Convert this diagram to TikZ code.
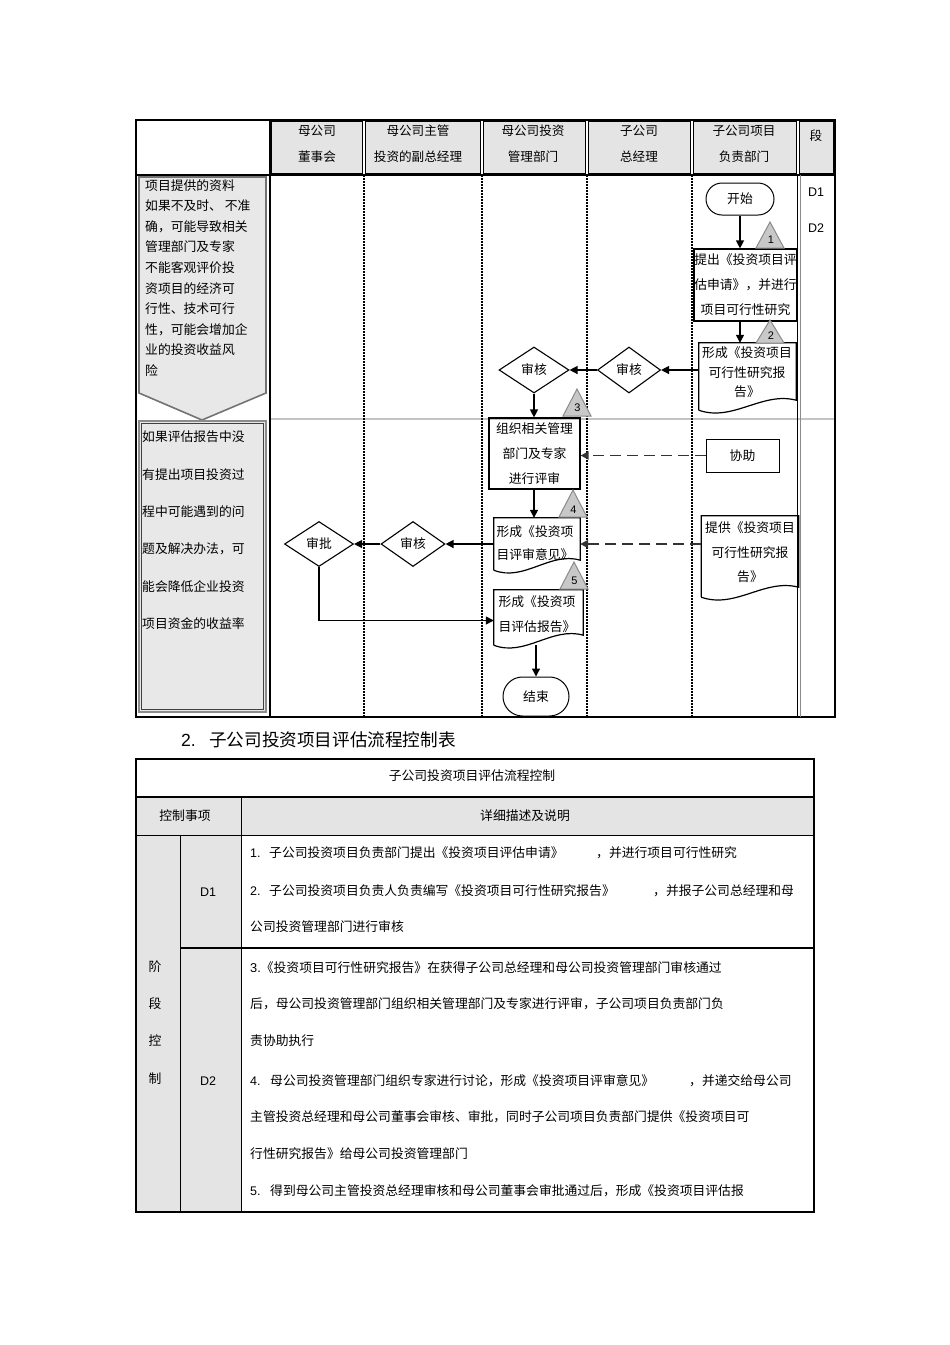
\documentclass[tikz,border=0pt]{standalone}
\usepackage{fontspec}
\setmainfont{Noto Sans CJK SC}
\newfontfamily\lat{Liberation Sans}
\usetikzlibrary{arrows.meta,calc,shapes.geometric,shapes.misc}
\definecolor{hdrgray}{HTML}{E4E4E4}
\definecolor{riskgray}{HTML}{E8E8E8}
\definecolor{trifill}{HTML}{C8C8C8}
\definecolor{triline}{HTML}{8A8A8A}
\definecolor{dashc}{HTML}{333333}
\definecolor{sepgray}{HTML}{C4C4C4}
\tikzset{
  ln/.style={inner sep=0pt, anchor=west, text height=0.86em, text depth=0.14em},
  ctr/.style={inner sep=0pt, align=center, font=\fontsize{12.8}{#1}\selectfont},
  ctr/.default=15,
  lft/.style={inner sep=0pt, align=left, font=\fontsize{12.8}{#1}\selectfont},
  procbox/.style={draw, line width=1.2pt, rectangle, inner sep=0pt},
  termbox/.style={draw, line width=1pt, rounded rectangle, inner sep=0pt},
  decbox/.style={draw, line width=1.1pt, diamond, inner sep=0pt},
  docbox/.style={rectangle, inner sep=0pt, draw=none},
  docline/.style={line width=1.2pt},
  arr/.style={line width=1.3pt, -{Triangle[length=8pt,width=8pt]}},
  darr/.style={line width=1.7pt, dashc, dash pattern=on 11pt off 6pt, -{Triangle[length=8pt,width=8pt]}},
  tri/.style={fill=trifill, draw=triline, line width=1pt},
  trinum/.style={font=\lat\fontsize{11}{13}\selectfont, inner sep=0pt},
  latn/.style={font=\lat\fontsize{12.5}{15}\selectfont, inner sep=0pt},
  hdr/.style={inner sep=0pt, align=center, font=\fontsize{12.6}{26}\selectfont},
}
\begin{document}
\begin{tikzpicture}[x=1pt,y=-1pt,font=\fontsize{12.8}{15}\selectfont]
\path[fill=white] (0,0) rectangle (950,1345);
\useasboundingbox (0,0) rectangle (950,1345);

% ---------------- flowchart frame ----------------
\foreach \a/\b in {270/364,364/482,482/587,587/692,692/798,798/835}
  \draw[fill=hdrgray, line width=1.1pt] (\a+1.6,121.6) rectangle (\b-1.6,173.4);
\draw[line width=1.8pt] (136,120) rectangle (835,175);
\draw[line width=1.8pt] (270,120) -- (270,175);

\draw[line width=2pt, sepgray] (270,419) -- (835,419);
\draw[line width=1.2pt] (136,175) -- (136,717) -- (835,717) -- (835,175);
\draw[line width=1.2pt] (270,175) -- (270,717);
\draw[line width=1pt] (797,175) -- (797,717);
\draw[line width=1pt, black!45] (800,175) -- (800,717);
\foreach \x in {364,482,587,692}
  \draw[line width=1.5pt, dash pattern=on 1.5pt off 1.5pt] (\x,175) -- (\x,717);

% header texts
\node[hdr] (h1) at (317,144) {母公司\\董事会};
\node[hdr] (h2) at (418,144) {母公司主管\\投资的副总经理};
\node[hdr] (h3) at (533,144) {母公司投资\\管理部门};
\node[hdr] (h4) at (639,144) {子公司\\总经理};
\node[hdr] (h5) at (744,144) {子公司项目\\负责部门};
\node[hdr] (h6) at (816,136) {段};
\node[latn] (dd1) at (816,192) {D1};
\node[latn] (dd2) at (816,228) {D2};

% risk boxes
\draw[fill=riskgray, draw=black!55, line width=1.6pt] (139,177) -- (266,177) -- (266,393) -- (202,420) -- (139,393) -- cycle;
\draw[fill=riskgray, draw=black!45, line width=1.6pt] (139,421) rectangle (266,712);
\draw[black!75, line width=0.5pt] (141.5,423.5) rectangle (263.5,709.5);
\foreach \t [count=\i] in {项目提供的资料,如果不及时、 不准,确，可能导致相关,管理部门及专家,不能客观评价投,资项目的经济可,行性、技术可行,性，可能会增加企,业的投资收益风,险}
  \node[ln] (ra\i) at (145,{186.5+20.6*(\i-1)}) {\t};
\foreach \t [count=\i] in {如果评估报告中没,有提出项目投资过,程中可能遇到的问,题及解决办法，可,能会降低企业投资,项目资金的收益率}
  \node[ln] (rb\i) at (142,{438+37.4*(\i-1)}) {\t};

% ---------------- flow nodes ----------------
\node[termbox, minimum width=68pt, minimum height=32pt] (start) at (740,199) {开始};
\node[procbox, minimum width=103pt, minimum height=72pt, ctr=25] (b1) at (745.5,285) {提出《投资项目评\\估申请》，并进行\\项目可行性研究};
\node[docbox, minimum width=97pt, minimum height=67pt] (d2) at (747.5,376.5) {};
\node[ctr=19.5] (t2) at (747,372.5) {形成《投资项目\\可行性研究报\\告》};
\node[decbox, minimum width=63pt, minimum height=46pt] (dB) at (629,370) {审核};
\node[decbox, minimum width=70pt, minimum height=46pt] (dA) at (534,370) {审核};
\node[procbox, minimum width=91pt, minimum height=71pt, ctr=25] (b3) at (534.5,453.5) {组织相关管理\\部门及专家\\进行评审};
\node[procbox, line width=1pt, minimum width=73pt, minimum height=33pt] (xz) at (742.5,455.5) {协助};
\node[docbox, minimum width=86pt, minimum height=52pt] (d4) at (537,544) {};
\node[lft=23] (t4) at (535,543.5) {形成《投资项\\目评审意见》};
\node[docbox, minimum width=97pt, minimum height=81pt] (d6) at (750,556.5) {};
\node[ctr=24.5] (t6) at (750,552.5) {提供《投资项目\\可行性研究报\\告》};
\node[decbox, minimum width=64pt, minimum height=45pt] (dC) at (413,544) {审核};
\node[decbox, minimum width=69pt, minimum height=45pt] (dD) at (319,544) {审批};
\node[docbox, minimum width=89pt, minimum height=55pt] (d5) at (538.5,617.5) {};
\node[lft=25] (t5) at (537,614.5) {形成《投资项\\目评估报告》};
\node[termbox, minimum width=66pt, minimum height=39pt] (end) at (536,696.5) {结束};

% document shapes
\foreach \n/\w in {d2/97,d4/86,d6/98,d5/89}
  \draw[docline] (\n.south west) -- (\n.north west) -- (\n.north east) -- ([yshift=10pt]\n.south east)
    .. controls +(-\w*0.35,-9) and +(\w*0.35,12) .. (\n.south west);

% triangles
\draw[tri] (770,222) -- (784,248) -- (756,248) -- cycle;
\node[trinum] (n1) at (771,240) {1};
\draw[tri] (770,320) -- (784,343) -- (756,343) -- cycle;
\node[trinum] (n2) at (771,335.5) {2};
\draw[tri] (577,389) -- (591,416) -- (563,416) -- cycle;
\node[trinum] (n3) at (577.5,408) {3};
\draw[tri] (573,490) -- (587,517) -- (559,517) -- cycle;
\node[trinum] (n4) at (573.5,509.5) {4};
\draw[tri] (574,562) -- (588,589) -- (560,589) -- cycle;
\node[trinum] (n5) at (574.5,581) {5};

% connectors
\draw[arr] (start.south) -- (start.south |- b1.north);
\draw[arr] (b1.south -| start.south) -- (d2.north -| start.south);
\draw[arr] (d2.west |- dB.east) -- (dB.east);
\draw[arr] (dB.west) -- (dA.east);
\draw[arr] (dA.south) -- (dA.south |- b3.north);
\draw[darr] (xz.west) -- (xz.west -| b3.east);
\draw[arr] (b3.south -| dA.south) -- (d4.north -| dA.south);
\draw[darr] (d6.west |- d4.east) -- (d4.east);
\draw[arr] (d4.west) -- (dC.east);
\draw[arr] (dC.west) -- (dD.east);
\draw[arr] (dD.south) |- ([yshift=-3pt]d5.west);
\draw[arr] (d5.south -| end.north) -- (end.north);

% ---------------- heading ----------------
\node[inner sep=0pt, anchor=west, font=\lat\fontsize{17.6}{20}\selectfont] (hn) at (181,740) {2.};
\node[inner sep=0pt, anchor=west, font=\fontsize{17.6}{20}\selectfont] (ht) at (209,740) {子公司投资项目评估流程控制表};

% ---------------- table ----------------
\fill[hdrgray] (136,797) rectangle (814,835);
\fill[hdrgray] (136,835) rectangle (241,1212);
\draw[line width=1pt] (241,797) -- (241,1212);
\draw[line width=1pt] (180,835) -- (180,1212);
\draw[line width=1pt] (136,835) -- (814,835);
\draw[line width=1.2pt] (180,948) -- (814,948);
\draw[line width=2.2pt] (136,797) -- (814,797);
\draw[line width=1.6pt] (136,759) rectangle (814,1212);

\node[inner sep=0pt] (tt) at (472,776) {子公司投资项目评估流程控制};
\node[inner sep=0pt] (th1) at (185,816) {控制事项};
\node[inner sep=0pt] (th2) at (525,816) {详细描述及说明};
\node[latn] (td1) at (208,892) {D1};
\node[latn] (td2) at (208,1081) {D2};
\foreach \t/\y [count=\i] in {阶/967,段/1004,控/1041,制/1079}
  \node[inner sep=0pt] (jd\i) at (155,\y) {\t};

\node[ln, font=\lat\fontsize{12.5}{15}\selectfont] (l1n) at (250,854) {1.};
\node[ln] (l1a) at (269,854) {子公司投资项目负责部门提出《投资项目评估申请》};
\node[ln] (l1b) at (596,854) {，并进行项目可行性研究};
\node[ln, font=\lat\fontsize{12.5}{15}\selectfont] (l2n) at (250,892) {2.};
\node[ln] (l2a) at (269,892) {子公司投资项目负责人负责编写《投资项目可行性研究报告》};
\node[ln] (l2b) at (653,892) {，并报子公司总经理和母};
\node[ln] (l3) at (250,928) {公司投资管理部门进行审核};
\node[ln] (l4) at (250,969) {{\lat 3.}《投资项目可行性研究报告》在获得子公司总经理和母公司投资管理部门审核通过};
\node[ln] (l5) at (250,1005) {后，母公司投资管理部门组织相关管理部门及专家进行评审，子公司项目负责部门负};
\node[ln] (l6) at (250,1042) {责协助执行};
\node[ln, font=\lat\fontsize{12.5}{15}\selectfont] (l7n) at (250,1082) {4.};
\node[ln] (l7a) at (270,1082) {母公司投资管理部门组织专家进行讨论，形成《投资项目评审意见》};
\node[ln] (l7b) at (689,1082) {，并递交给母公司};
\node[ln] (l8) at (250,1118) {主管投资总经理和母公司董事会审核、审批，同时子公司项目负责部门提供《投资项目可};
\node[ln] (l9) at (250,1155) {行性研究报告》给母公司投资管理部门};
\node[ln, font=\lat\fontsize{12.5}{15}\selectfont] (l10n) at (250,1192) {5.};
\node[ln] (l10a) at (270,1192) {得到母公司主管投资总经理审核和母公司董事会审批通过后，形成《投资项目评估报};
\end{tikzpicture}
\end{document}
